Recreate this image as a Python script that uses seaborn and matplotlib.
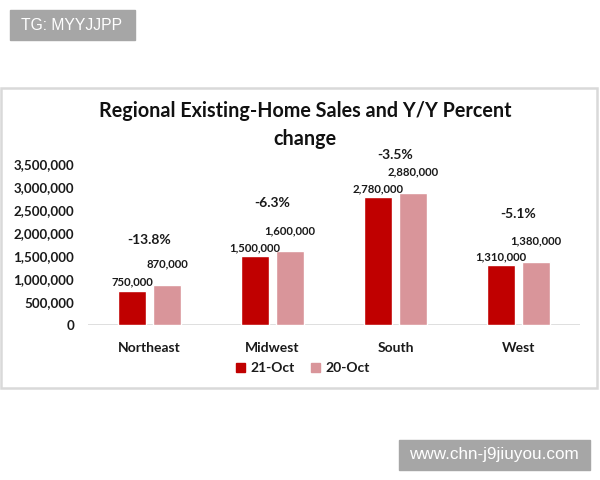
import matplotlib
matplotlib.use("Agg")
import matplotlib.pyplot as plt
import matplotlib.patches as mpatches
import seaborn as sns
import pandas as pd
from matplotlib.ticker import FuncFormatter

regions = ["Northeast", "Midwest", "South", "West"]
series = ["21-Oct", "20-Oct"]
sales_21 = [750000, 1500000, 2780000, 1310000]
sales_20 = [870000, 1600000, 2880000, 1380000]
pct_change = ["-13.8%", "-6.3%", "-3.5%", "-5.1%"]
title = "Regional Existing-Home Sales and Y/Y Percent\nchange"
yticks = [0, 500000, 1000000, 1500000, 2000000, 2500000, 3000000, 3500000]

colors = {"21-Oct": "#C00000", "20-Oct": "#D9959A"}
pct_offsets_px = [45, 48, 38, 48]

df = pd.DataFrame({
    "Region": regions * 2,
    "Series": [series[0]] * 4 + [series[1]] * 4,
    "Sales": sales_21 + sales_20,
})

sns.set_theme(style="white")
plt.rcParams["font.family"] = ["Lato", "DejaVu Sans"]

W, H = 600, 480
fig = plt.figure(figsize=(6, 4.8), dpi=100)
fig.patch.set_facecolor("white")

def fx(x):
    return x / W

def fy(y):
    return 1 - y / H

ax = fig.add_axes([fx(88), fy(325), fx(580) - fx(88), fy(164) - fy(325)])
sns.barplot(data=df, x="Region", y="Sales", hue="Series", order=regions,
            hue_order=series, palette=colors, width=0.57, gap=0.19,
            saturation=1, ax=ax, legend=False)
ax.set_ylim(0, 3500000)
ax.set_xlim(-0.5, 3.5)
ax.set_yticks(yticks)
ax.yaxis.set_major_formatter(FuncFormatter(lambda v, p: f"{int(v):,}"))
for s in ax.spines.values():
    s.set_visible(False)
ax.axhline(0, color="#D9D9D9", lw=1.2, zorder=0)
ax.tick_params(axis="both", length=0)
ax.tick_params(axis="y", pad=10)
ax.tick_params(axis="x", pad=12)
for lab in ax.get_yticklabels():
    lab.set_fontweight("bold")
    lab.set_fontsize(9.6)
    lab.set_color("#1a1a1a")
for lab in ax.get_xticklabels():
    lab.set_fontweight("bold")
    lab.set_fontsize(10)
    lab.set_color("#1a1a1a")
ax.set_xlabel("")
ax.set_ylabel("")

containers = ax.containers
ax.bar_label(containers[0], labels=[f"{v:,}" for v in sales_21], padding=2,
             fontsize=8.2, fontweight="bold", color="#1a1a1a")
ax.bar_label(containers[1], labels=[f"{v:,}" for v in sales_20], padding=11,
             fontsize=8.2, fontweight="bold", color="#1a1a1a")

for i, (p, off) in enumerate(zip(pct_change, pct_offsets_px)):
    top = max(sales_21[i], sales_20[i])
    ax.annotate(p, xy=(i, top), xytext=(0, off), textcoords="offset pixels",
                ha="center", va="center", fontsize=10, fontweight="bold",
                color="#1a1a1a", annotation_clip=False)

fig.text(fx(305), fy(125), title, ha="center", va="center", fontsize=14.2,
         fontweight="bold", color="#111111", linespacing=1.45)

handles = [mpatches.Patch(color=colors[s], label=s) for s in series]
leg = fig.legend(handles=handles, loc="center", bbox_to_anchor=(fx(303), fy(368)),
                 ncol=2, frameon=False, handlelength=0.6, handleheight=0.6,
                 handletextpad=0.4, columnspacing=1.2,
                 prop={"weight": "bold", "size": 10})
for t in leg.get_texts():
    t.set_color("#1a1a1a")

# chart border
fig.patches.append(mpatches.Rectangle((fx(1), fy(388)), fx(597) - fx(1), fy(88) - fy(388),
                                      transform=fig.transFigure, fill=False,
                                      edgecolor="#D9D9D9", lw=1.8))

# watermark boxes
fig.patches.append(mpatches.Rectangle((fx(10), fy(40)), fx(135) - fx(10), fy(10) - fy(40),
                                      transform=fig.transFigure, color="#A6A6A6"))
fig.text(fx(72), fy(25), "TG: MYYJJPP", ha="center", va="center", fontsize=11.3,
         color="white", family=["Liberation Sans", "DejaVu Sans"])
fig.patches.append(mpatches.Rectangle((fx(399), fy(470)), fx(590) - fx(399), fy(440) - fy(470),
                                      transform=fig.transFigure, color="#A6A6A6"))
fig.text(fx(494), fy(455), "www.chn-j9jiuyou.com", ha="center", va="center", fontsize=12.3,
         color="white", family=["Liberation Sans", "DejaVu Sans"])

fig.savefig("out.png", dpi=100, facecolor="white")
